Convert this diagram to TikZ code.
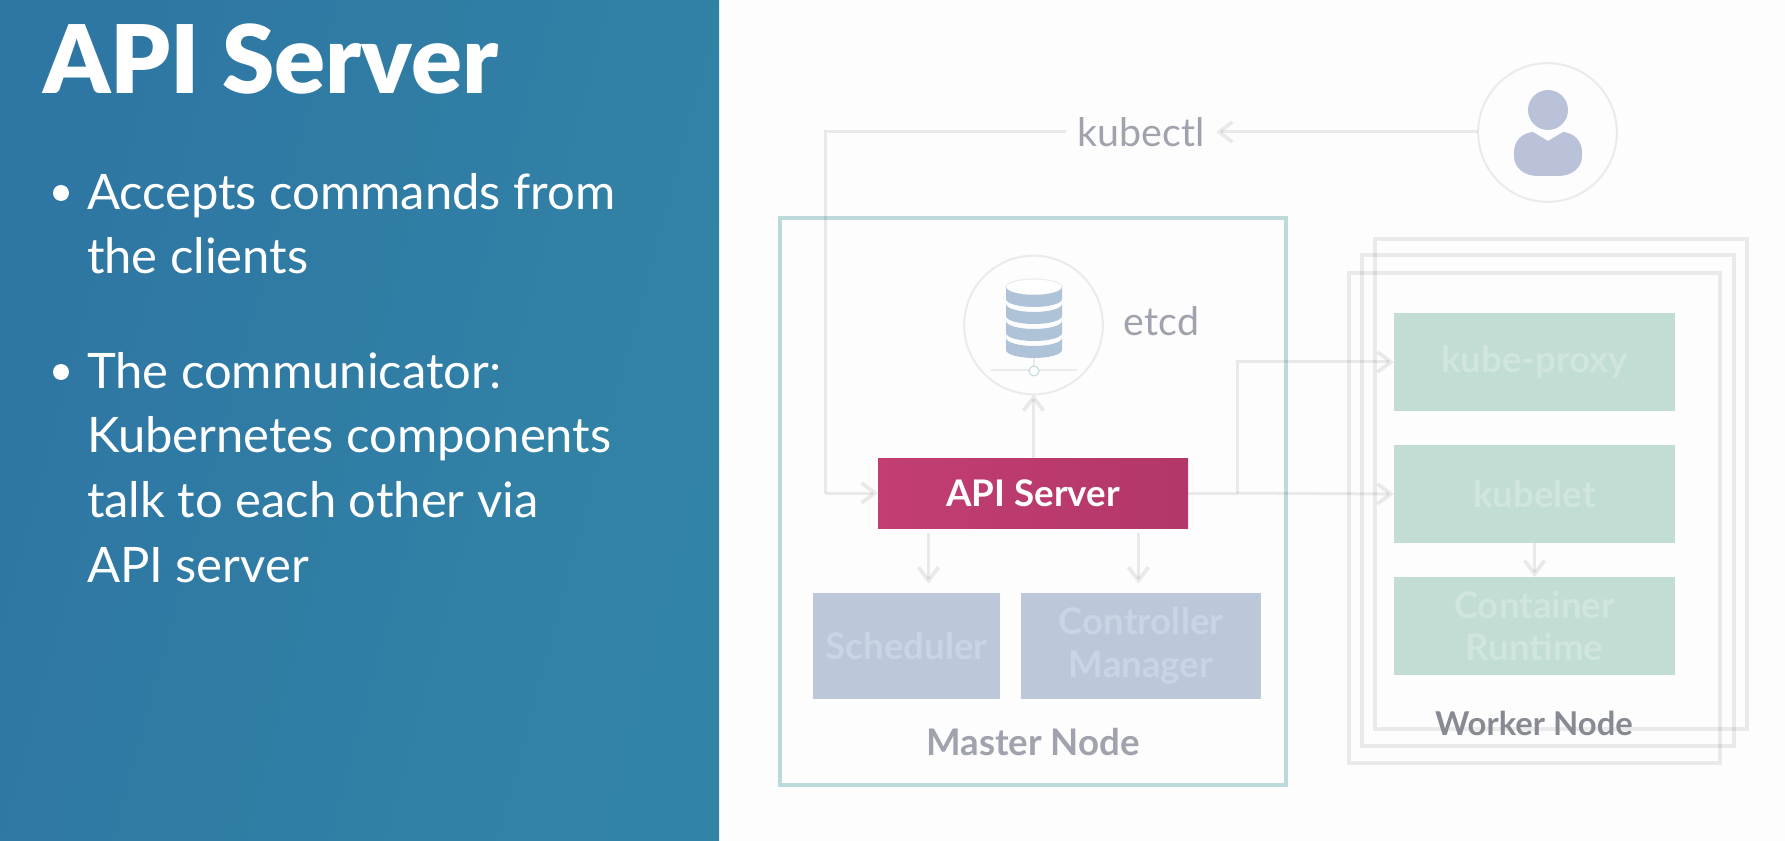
\documentclass[tikz,border=0pt]{standalone}
\usepackage{fontspec}
\setmainfont{Lato}
\newfontfamily\latoblack{Lato Black}
\usetikzlibrary{arrows.meta,calc}
\definecolor{pagebg}{HTML}{FDFDFD}
\definecolor{panelL}{HTML}{2E76A3}
\definecolor{panelR}{HTML}{3284A6}
\definecolor{masterline}{HTML}{BCDAD9}
\definecolor{apiL}{HTML}{C23E73}
\definecolor{apiR}{HTML}{B33768}
\definecolor{bluebox}{HTML}{BCC7DA}
\definecolor{bluetxt}{HTML}{CBD4E4}
\definecolor{greenbox}{HTML}{C2DDD3}
\definecolor{greentxt}{HTML}{CFE5DD}
\definecolor{graytxt}{HTML}{A0A3AD}
\definecolor{ringline}{HTML}{EBEBEB}
\definecolor{dbfill}{HTML}{AEC2D8}
\definecolor{personfill}{HTML}{B9C2D8}
\tikzset{
 x=0.75pt,y=-0.75pt,
 conn/.style={draw=black,draw opacity=0.08,line width=2.25pt,-{Straight Barb[length=10pt,width=15pt,line width=2.8pt]}},
 plainconn/.style={draw=black,draw opacity=0.08,line width=2.25pt},
 frame/.style={draw=black,draw opacity=0.075,line width=2.4pt},
 box/.style={rectangle,inner sep=0pt,outer sep=0pt,align=center},
 ring/.style={circle,draw=ringline,line width=1.5pt,minimum size=104pt,inner sep=0pt,outer sep=0pt},
 blueb/.style={box,fill=bluebox,text=bluetxt,minimum height=79.5pt,font=\bfseries\fontsize{27.5}{32}\selectfont},
 greenb/.style={box,fill=greenbox,text=greentxt,minimum width=211pt,minimum height=73.5pt,font=\bfseries\fontsize{27.5}{32}\selectfont},
 bodytext/.style={text=white,align=left,anchor=north west,inner sep=0pt,outer sep=0pt,font=\fontsize{36.7}{48.6}\selectfont},
 lighttext/.style={text=graytxt,anchor=base,inner sep=0pt,outer sep=0pt,font=\fontsize{29.5}{36}\selectfont},
 nodetitle/.style={anchor=base,inner sep=0pt,outer sep=0pt,font=\bfseries},
}
\begin{document}
\begin{tikzpicture}
\useasboundingbox (0,0) rectangle (1785,841);
\fill[pagebg] (0,0) rectangle (1785,841);
\shade[left color=panelL,right color=panelR,shading angle=75] (0,0) rectangle (719,841);
% left panel
\node[anchor=base west,inner sep=0pt,text=white,font=\latoblack\fontsize{71}{80}\selectfont] (title) at (43,94) {API Server};
\fill[white] (61,193) circle (8);
\fill[white] (61,372) circle (8);
\node[bodytext] (b1) at (87,173) {Accepts commands from\\the clients};
\node[bodytext] (b2) at (87,352) {The communicator:\\Kubernetes components\\talk to each other via\\API server};
% worker frames
\draw[frame] (1375,239) rectangle (1747,729);
\draw[frame] (1362,255) rectangle (1734,746);
\draw[frame] (1349,273) rectangle (1720,763);
% master frame
\draw[draw=masterline,line width=2.6pt] (780,218) rectangle (1286,785);
% nodes
\node[box,fill=apiL,left color=apiL,right color=apiR,text=white,minimum width=232.5pt,minimum height=53pt,font=\bfseries\fontsize{27.5}{32}\selectfont] (api) at (1033,493.5) {API Server};
\node[blueb,minimum width=140pt] (sched) at (906.5,646) {Scheduler};
\node[blueb,minimum width=180pt] (ctrl) at (1141,646) {\raisebox{-1.2pt}{Controller}\\\raisebox{-1.2pt}{Manager}};
\node[greenb] (proxy) at (1534.5,362) {\raisebox{-1.5pt}{kube-proxy}};
\node[greenb] (kubelet) at (1534.5,494) {kubelet};
\node[greenb] (runtime) at (1534.5,626) {Container\\Runtime};
\node[ring] (etcd) at (1033.5,325) {};
\node[ring] (user) at (1547.5,132.5) {};
\node[lighttext] (kubectl) at (1141,147) {kubectl};
\node[lighttext] (etcdlabel) at (1161.5,336) {etcd};
\node[nodetitle,text=graytxt,font=\bfseries\fontsize{27.5}{32}\selectfont] (master) at (1033,755) {Master Node};
\node[nodetitle,text=graytxt!85!black,font=\bfseries\fontsize{24.6}{30}\selectfont] (worker) at (1534,735) {Worker Node};
% database icon
\fill[white,draw=ringline,line width=0.75pt] (1034,287) ellipse [x radius=28,y radius=8];
\foreach \c in {295,312,329,346}{
 \fill[dbfill] (1006,\c-8) .. controls (1006,\c-3.6) and (1018.6,\c) .. (1034,\c) .. controls (1049.4,\c) and (1062,\c-3.6) .. (1062,\c-8) -- (1062,\c+4) .. controls (1062,\c+8.4) and (1049.4,\c+12) .. (1034,\c+12) .. controls (1018.6,\c+12) and (1006,\c+8.4) .. (1006,\c+4) -- cycle;
}
\draw[ringline,line width=1.5pt] (990.5,370) -- (1077,370);
\draw[ringline,line width=1pt] (1034,358) -- (1034,366);
\draw[masterline,fill=white,line width=0.75pt] (1034,371) circle (5);
% person icon
\fill[personfill] (1548,110) ellipse [x radius=20,y radius=20];
\fill[personfill] (1548,141) -- (1533,132) .. controls (1522,133) and (1514,141) .. (1514,152) -- (1514,156) .. controls (1514,168) and (1524,176) .. (1538,176) -- (1558,176) .. controls (1572,176) and (1582,168) .. (1582,156) -- (1582,152) .. controls (1582,141) and (1574,133) .. (1563,132) -- cycle;
% connectors
\coordinate (kL) at (1066,132);
\coordinate (kR) at (1216,132);
\coordinate (bend1) at (825,132);
\coordinate (bend2) at (825,493);
\coordinate (jR) at (1237.5,493);
\coordinate (jT) at (1237.5,362);
\draw[conn] (user.west |- kR) -- (kR);
\draw[plainconn] (kL) -- (bend1) -- (bend2);
\draw[conn] (bend2) -- (bend2 -| api.west);
\draw[conn] (api.north -| etcd.south) -- (etcd.south);
\draw[conn,shorten <=3pt,shorten >=3.5pt] ($(api.south west)+(50.5,0)$) -- ++(0,59.5);
\draw[conn,shorten <=3pt,shorten >=3.5pt] ($(api.south west)+(260.5,0)$) -- ++(0,59.5);
\draw[plainconn] (api.east |- jR) -- (jR);
\draw[conn] (jR) -- (jT) -- (proxy.west);
\draw[conn] (jR) -- (kubelet.west);
\draw[conn] (kubelet.south) -- (runtime.north);
\end{tikzpicture}
\end{document}
